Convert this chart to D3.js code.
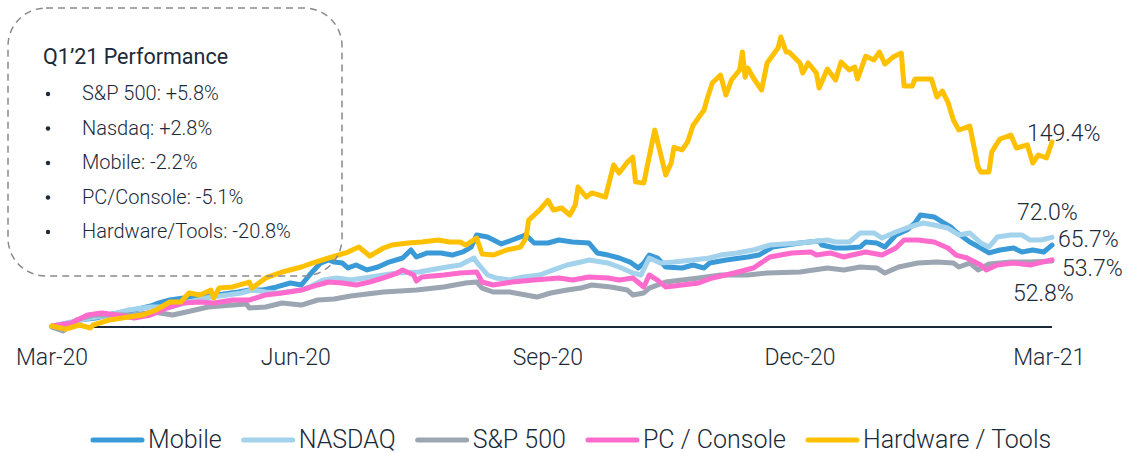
<!DOCTYPE html>
<html>
<head>
<meta charset="utf-8">
<script src="https://cdn.jsdelivr.net/npm/d3@7"></script>
<style>
  body { margin: 0; background: #fff; }
  svg { display: block; font-family: Roboto, "Liberation Sans", Arial, sans-serif; font-weight: 300; }
  .lbl { fill: #1b2a38; }
</style>
</head>
<body>
<div id="chart"></div>
<script>
// day offsets from 18 Mar 2020 and % change since then
const mobileDays = [0,5,10,16,22,30,36,39,43,48,54,60,68,72,77,82,87,91,94,98,101,103,106,108,111,115,119,123,128,131,133,137,142,146,150,153,155,159,164,168,173,176,181,185,190,196,199,203,207,211,214,216,218,221,224,230,234,238,240,246,254,258,263,273,280,281,286,290,295,297,301,304,308,312,315,317,322,325,328,330,335,339,342,346,351,354,358,362,365];
const mobileVals = [0,0.8,4.9,6.5,9.7,13.0,16.2,18.7,21.1,22.7,25.2,25.2,27.6,29.2,29.2,31.7,34.9,33.3,41.4,51.1,53.6,51.9,51.1,47.1,49.5,45.5,47.9,51.9,55.2,61.7,56.0,59.3,59.3,57.6,60.1,64.1,73.9,72.2,66.6,69.8,73.9,67.4,67.4,69.8,68.2,67.4,59.3,57.6,55.2,51.9,47.1,51.1,57.6,55.2,47.9,47.1,49.5,47.1,51.1,53.6,56.0,57.6,64.1,67.4,69.0,65.7,63.3,63.3,64.1,68.2,67.4,64.1,73.9,77.9,83.6,90.1,88.5,84.4,80.4,76.3,68.2,63.3,59.3,61.7,63.3,60.1,61.7,60.1,65.7];

const nasdaqDays = [0,7,14,21,28,36,43,50,58,64,69,73,78,83,91,94,99,104,109,114,121,126,134,142,149,154,155,159,162,167,172,178,183,188,193,196,203,207,212,215,218,222,227,234,240,244,250,256,262,273,283,286,291,295,300,303,308,313,318,322,327,331,335,339,342,345,350,354,357,361,365];
const nasdaqVals = [0,3.2,6.5,8.9,13.0,15.4,15.4,19.5,23.5,25.2,26.8,29.2,27.6,26.8,29.2,31.7,37.3,39.0,37.3,39.0,41.4,43.0,43.8,47.1,49.5,55.2,51.9,41.4,39.0,37.3,39.8,41.4,45.5,49.5,51.9,53.6,51.1,47.9,43.0,41.4,55.2,51.1,51.9,53.6,55.2,57.6,59.3,61.7,65.7,67.4,69.8,68.2,68.2,75.5,75.5,71.4,76.3,80.4,83.6,82.0,79.5,73.9,75.5,67.4,64.1,72.2,73.9,73.9,69.8,69.8,72.0];

const spDays = [0,4,9,15,22,30,37,44,49,57,66,71,72,78,84,91,97,103,109,121,133,143,151,155,157,161,167,173,177,182,188,193,197,204,210,212,216,218,224,230,236,244,254,261,273,283,289,295,301,304,309,316,323,329,331,335,338,342,350,357,365];
const spVals = [-1,-4,4.9,8.9,8.9,8.9,11.4,8.9,11.4,15.4,17.0,17.9,14.6,15.4,18.7,17.0,21.1,21.9,24.4,27.6,29.2,31.7,34.9,35.7,30.8,27.6,27.6,25.2,23.5,26.8,29.2,30.8,33.3,31.7,29.2,25.2,26.8,30.8,35.7,37.3,39.0,41.4,41.4,43.0,43.8,47.1,45.5,47.9,47.1,43.0,47.9,51.1,51.9,51.1,47.9,51.1,45.5,50.3,51.9,51.9,52.8];

const pcDays = [0,7,13,18,24,30,36,42,48,54,59,66,72,78,84,91,97,101,106,111,116,121,126,128,132,133,135,143,149,155,157,161,168,176,185,190,196,203,207,212,216,218,221,224,230,236,241,249,256,262,270,277,279,284,289,292,297,303,308,311,316,322,327,330,334,339,341,345,351,357,365];
const pcVals = [0,2.4,8.9,10.6,8.9,6.5,8.9,14.6,18.7,19.5,18.7,21.1,21.1,25.2,26.8,29.2,33.3,35.7,34.9,33.3,35.7,39.0,43.0,45.5,41.4,36.5,39.8,41.4,43.0,43.8,35.7,33.3,35.7,37.3,39.0,37.3,39.8,39.0,37.3,39.0,31.7,41.4,37.3,31.7,33.3,34.9,39.0,43.0,47.1,56.0,59.3,60.1,57.6,59.3,56.0,57.6,60.1,57.6,63.3,69.8,69.8,68.2,63.3,57.6,55.2,49.5,45.5,49.5,51.1,49.5,53.7];

const hwDays = [0,5,10,14,15,21,28,33,38,43,47,50,54,58,59,61,66,72,73,78,84,91,95,101,108,112,116,121,124,130,135,141,145,149,151,155,157,161,166,171,173,174,178,181,183,186,189,191,192,195,197,202,205,207,210,212,213,216,220,224,226,227,230,232,234,238,239,241,244,246,248,251,252,253,254,256,259,261,265,266,268,269,273,274,276,279,280,283,286,288,291,293,294,297,300,302,304,307,310,311,314,315,321,323,325,327,329,331,335,338,339,342,343,345,346,350,352,356,358,360,363,365];
const hwVals = [0,-2.5,0.8,-1.6,0.8,4.9,7.3,8.9,13.0,19.5,19.5,26.8,25.2,29.2,22.7,30.8,31.7,35.7,30.8,39.0,43.8,47.9,51.1,55.2,60.0,64.1,56.8,63.3,65.7,67.4,68.2,69.8,68.2,68.2,65.7,71.4,58.4,57.6,61.7,64.1,71.4,86.0,94.2,102.0,94.2,95.8,90.1,98.2,112.8,104.7,108.0,104.7,130.7,124.2,133.0,137.0,117.0,116.0,159.0,122.6,132.3,145.0,142.9,149.4,163.0,175.3,183.4,197.2,203.7,187.5,199.7,207.8,222.4,202.0,209.4,201.3,191.6,213.5,225.6,234.6,222.4,222.4,213.5,205.4,213.5,205.4,193.2,208.6,199.7,214.3,207.8,210.2,200.5,219.0,215.9,222.4,212.7,218.3,221.6,194.8,194.8,200.5,200.5,185.9,190.7,181.8,167.2,159.1,162.3,129.0,125.0,125.0,141.2,148.5,151.8,155.0,144.5,147.0,132.3,138.8,136.4,149.4];

const seriesNames  = ["Mobile", "NASDAQ", "S&P 500", "PC / Console", "Hardware / Tools"];
const seriesColors = ["#3a9ad8", "#a3d2ec", "#9ba6b2", "#ff6acd", "#ffc000"];
const seriesDays   = [mobileDays, nasdaqDays, spDays, pcDays, hwDays];
const seriesVals   = [mobileVals, nasdaqVals, spVals, pcVals, hwVals];

const tickDates  = ["2020-03-18", "2020-06-15", "2020-09-15", "2020-12-16", "2021-03-17"];
const endLabels  = ["65.7%", "72.0%", "52.8%", "53.7%", "149.4%"];
const perfTitle  = "Q1\u201921 Performance";
const perfItems  = ["S&P 500: +5.8%", "Nasdaq: +2.8%", "Mobile: -2.2%", "PC/Console: -5.1%", "Hardware/Tools: -20.8%"];

const width = 1128, height = 453;
const start = new Date(2020, 2, 18);
const end   = d3.timeDay.offset(start, 365);
const parse = d3.timeParse("%Y-%m-%d");

const x = d3.scaleTime().domain([start, end]).range([52, 1052]);
const y = d3.scaleLinear().domain([0, 235]).range([326, 36.5]);

const svg = d3.select("#chart").append("svg")
  .attr("width", width)
  .attr("height", height);

// zero line
svg.append("line")
  .attr("x1", 92).attr("x2", x(end))
  .attr("y1", y(0) + 1).attr("y2", y(0) + 1)
  .attr("stroke", "#1b2a38").attr("stroke-width", 2);

// x labels
svg.append("g")
  .selectAll("text")
  .data(tickDates.map(parse))
  .join("text")
    .attr("class", "lbl")
    .attr("x", d => x(d))
    .attr("y", 365)
    .attr("text-anchor", "middle")
    .style("font-size", "23px")
    .text(d3.timeFormat("%b-%y"));

const line = d3.line()
  .x(d => x(d3.timeDay.offset(start, d[0])))
  .y(d => y(d[1]));

seriesNames.forEach((name, i) => {
  const pts = seriesDays[i].map((d, j) => [d, seriesVals[i][j]]);
  svg.append("path")
    .datum(pts)
    .attr("fill", "none")
    .attr("stroke", seriesColors[i])
    .attr("stroke-width", 5)
    .attr("stroke-linejoin", "round")
    .attr("stroke-linecap", "round")
    .attr("d", line);
});

// end labels (hand placed like the original)
const endPos = [[1058, 247], [1017, 220], [1013, 301], [1062, 276], [1027, 141]];
svg.append("g")
  .selectAll("text")
  .data(endLabels)
  .join("text")
    .attr("class", "lbl")
    .attr("x", (d, i) => endPos[i][0])
    .attr("y", (d, i) => endPos[i][1])
    .style("font-size", "23px")
    .text(d => d);

// performance box
const box = svg.append("g");
box.append("rect")
  .attr("x", 8).attr("y", 8)
  .attr("width", 334).attr("height", 268)
  .attr("rx", 38).attr("ry", 38)
  .attr("fill", "none")
  .attr("stroke", "#8a8a8a")
  .attr("stroke-width", 1.5)
  .attr("stroke-dasharray", "7,5");

box.append("text")
  .attr("class", "lbl")
  .attr("x", 43).attr("y", 64)
  .style("font-size", "21.5px")
  .style("font-weight", 400)
  .text(perfTitle);

perfItems.forEach((t, i) => {
  const yy = 100 + i * 34.5;
  box.append("circle")
    .attr("cx", 48).attr("cy", yy - 6)
    .attr("r", 2.2)
    .attr("fill", "#1b2a38");
  box.append("text")
    .attr("class", "lbl")
    .attr("x", 82).attr("y", yy)
    .style("font-size", "20px")
    .text(t);
});

// legend
const legend = svg.append("g");
let lx = 90;
seriesNames.forEach((name, i) => {
  legend.append("line")
    .attr("x1", lx + 3).attr("x2", lx + 52)
    .attr("y1", 440).attr("y2", 440)
    .attr("stroke", seriesColors[i])
    .attr("stroke-width", 5)
    .attr("stroke-linecap", "round");
  const t = legend.append("text")
    .attr("class", "lbl")
    .attr("x", lx + 58).attr("y", 448)
    .style("font-size", "25px")
    .text(name);
  lx += 58 + t.node().getComputedTextLength() + 19;
});
</script>
</body>
</html>
